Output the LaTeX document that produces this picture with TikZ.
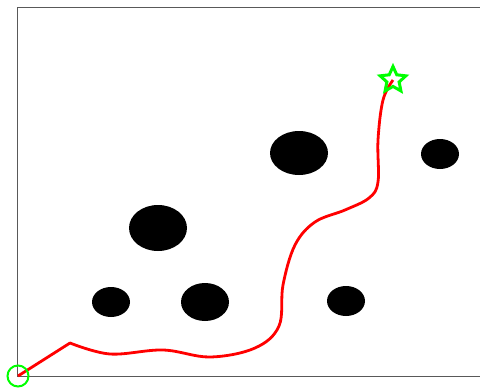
\documentclass[tikz,border=0pt]{standalone}
\usepackage{tikz}
\usetikzlibrary{shapes.geometric}

\begin{document}
\begin{tikzpicture}[
    x=1pt, y=-1pt,
    obstacle/.style={fill=black},
    route/.style={red, line width=2.8pt, line join=round},
    startmark/.style={circle, draw=green, line width=2pt, minimum size=21pt, inner sep=0pt},
    goalmark/.style={star, star points=5, star point ratio=2.1, draw=green, line width=3pt, minimum size=27pt, inner sep=0pt}
]
\useasboundingbox (0,0) rectangle (480,389);

% Workspace border
\draw[gray!70!black, line width=1pt] (480,7) -- (17.5,7) -- (17.5,376) -- (480,376);

% Obstacles
\fill[obstacle] (111,302) ellipse [x radius=19, y radius=15];
\fill[obstacle] (205,302) ellipse [x radius=24, y radius=19];
\fill[obstacle] (158,228) ellipse [x radius=29, y radius=23];
\fill[obstacle] (299,153) ellipse [x radius=29, y radius=22];
\fill[obstacle] (346,301) ellipse [x radius=19, y radius=15];
\fill[obstacle] (440,154) ellipse [x radius=19, y radius=15];

% Start and goal
\coordinate (start) at (18,376);
\coordinate (goal) at (393,80);

% Planned path
\draw[route] (start) -- plot[smooth, tension=0.6] coordinates {(70,343) (110,354) (163,350) (210,357) (255,348) (279,326) (283,285) (295,245) (315,222) (345,210) (369,198) (378,182) (378,140) (383,100) (goal)};

\node[startmark] (startnode) at (start) {};
\node[goalmark] (goalnode) at (goal) {};
\end{tikzpicture}
\end{document}
